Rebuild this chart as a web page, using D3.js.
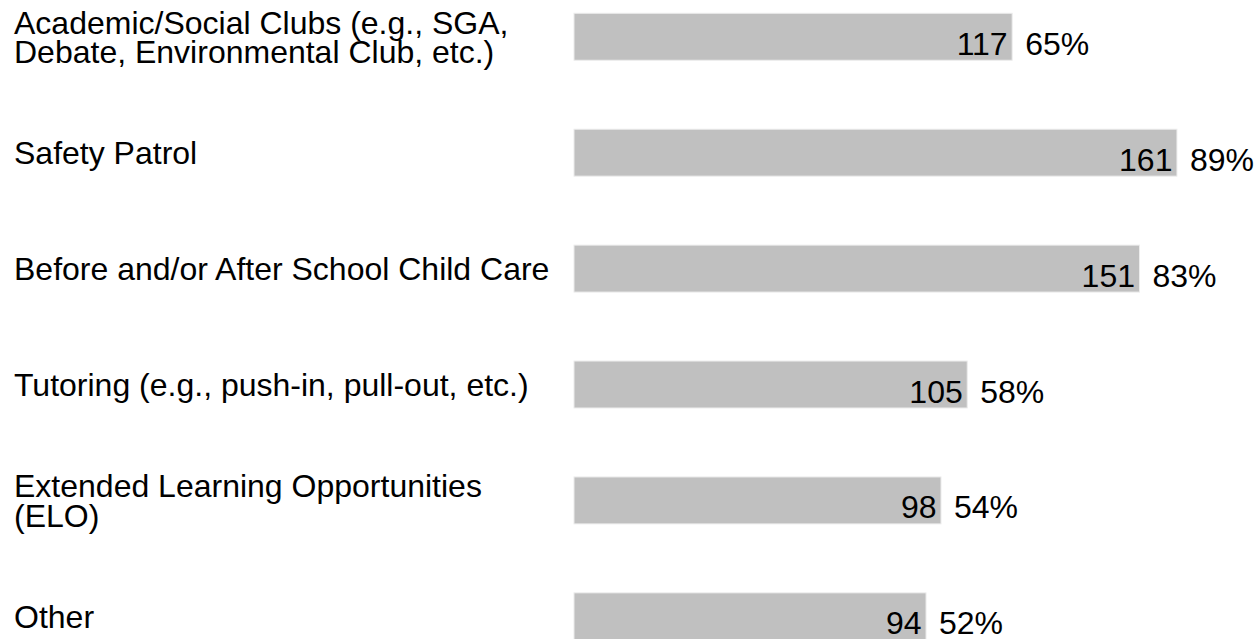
<!DOCTYPE html>
<html><head><meta charset="utf-8">
<script src="https://cdn.jsdelivr.net/npm/d3@7"></script>
<style>html,body{margin:0;padding:0;background:#fff;}svg{display:block;}</style>
</head><body>
<script>
const categories = [
  ["Academic/Social Clubs (e.g., SGA,", "Debate, Environmental Club, etc.)"],
  ["Safety Patrol"],
  ["Before and/or After School Child Care"],
  ["Tutoring (e.g., push-in, pull-out, etc.)"],
  ["Extended Learning Opportunities", "(ELO)"],
  ["Other"]
];
const counts = [117, 161, 151, 105, 98, 94];
const percents = ["65%", "89%", "83%", "58%", "54%", "52%"];

const W = 1259, H = 639;
const font = "'Liberation Sans', Arial, sans-serif";
const fs = 32;
const svg = d3.select("body").append("svg").attr("width", W).attr("height", H);

const idx = d3.range(counts.length);
const y = d3.scaleBand().domain(idx).range([13.3, 639.8]).paddingInner(0.595).paddingOuter(0);
const x = d3.scaleLinear().domain([0, 181]).range([574, 574 + 181 * 3.745]);

svg.append("g").selectAll("rect.bar").data(idx).join("rect")
  .attr("class", "bar")
  .attr("x", x(0))
  .attr("y", i => y(i))
  .attr("width", i => x(counts[i]) - x(0))
  .attr("height", y.bandwidth())
  .attr("fill", "#c0c0c0")
  .attr("stroke", "#ececec")
  .attr("stroke-width", 1);

// category labels
const lh = 29.5;
idx.forEach(i => {
  const lines = categories[i];
  const cy = y(i) + y.bandwidth() / 2;
  const t = svg.append("text")
    .attr("font-family", font).attr("font-size", fs).attr("fill", "#000");
  lines.forEach((ln, k) => {
    const base = cy + 11.5 + (k - (lines.length - 1) / 2) * lh;
    t.append("tspan").attr("x", 14).attr("y", base).text(ln);
  });
});

// count labels inside bar end
svg.selectAll("text.cnt").data(idx).join("text")
  .attr("class", "cnt")
  .attr("x", i => x(counts[i]) - 4.5)
  .attr("y", i => y(i) + y.bandwidth() / 2 + 18)
  .attr("text-anchor", "end")
  .attr("font-family", font).attr("font-size", fs).attr("fill", "#000")
  .text(i => counts[i]);

// percent labels
svg.selectAll("text.pct").data(idx).join("text")
  .attr("class", "pct")
  .attr("x", i => x(counts[i]) + 13)
  .attr("y", i => y(i) + y.bandwidth() / 2 + 18)
  .attr("text-anchor", "start")
  .attr("font-family", font).attr("font-size", fs).attr("fill", "#000")
  .text(i => percents[i]);
</script>
</body></html>
